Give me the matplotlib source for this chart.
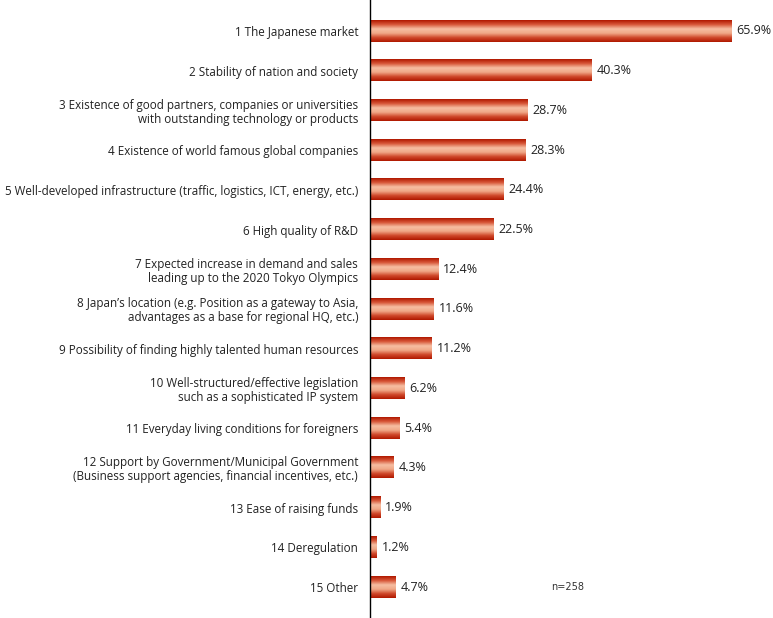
import numpy as np
import matplotlib.pyplot as plt
from matplotlib.colors import LinearSegmentedColormap

# survey answers, in display order
labels = [
    "1 The Japanese market",
    "2 Stability of nation and society",
    "3 Existence of good partners, companies or universities\nwith outstanding technology or products",
    "4 Existence of world famous global companies",
    "5 Well-developed infrastructure (traffic, logistics, ICT, energy, etc.)",
    "6 High quality of R&D",
    "7 Expected increase in demand and sales\nleading up to the 2020 Tokyo Olympics",
    "8 Japan\u2019s location (e.g. Position as a gateway to Asia,\nadvantages as a base for regional HQ, etc.)",
    "9 Possibility of finding highly talented human resources",
    "10 Well-structured/effective legislation\nsuch as a sophisticated IP system",
    "11 Everyday living conditions for foreigners",
    "12 Support by Government/Municipal Government\n(Business support agencies, financial incentives, etc.)",
    "13 Ease of raising funds",
    "14 Deregulation",
    "15 Other",
]
values = [65.9, 40.3, 28.7, 28.3, 24.4, 22.5, 12.4, 11.6, 11.2, 6.2, 5.4, 4.3, 1.9, 1.2, 4.7]
sample_note = "n=258"

plt.rcParams['font.family'] = ['Open Sans', 'DejaVu Sans']

fig = plt.figure(figsize=(7.73, 6.18), dpi=100)
ax = fig.add_axes([370 / 773, 0, 403 / 773, 1])

# vertical gradient: dark red at the edges, pale peach in the middle
grad = LinearSegmentedColormap.from_list(
    "bar", ["#b01800", "#d8583a", "#f6bea2", "#f0a888", "#d04a2c", "#b01800"])
g = np.linspace(0, 1, 64).reshape(-1, 1)

ypos = np.arange(len(values))
h = 0.53
bars = ax.barh(ypos, values, height=h, color="none", edgecolor="none")
for b, v in zip(bars, values):
    x0, y0 = b.get_x(), b.get_y()
    ax.imshow(g, cmap=grad, aspect="auto", interpolation="bilinear",
              extent=[x0, x0 + b.get_width(), y0 + h, y0], zorder=2)
    ax.text(v + 0.9, b.get_y() + h / 2, f"{v}%", va="center", ha="left",
            fontsize=9, color="#222222")

ax.set_xlim(0, 403 / 5.49)
ax.set_ylim(14.78, -0.78)
ax.set_yticks(ypos)
ax.set_yticklabels(labels, fontsize=8.4, color="#222222", linespacing=1.1)
ax.tick_params(axis="y", length=0, pad=8.5)
ax.set_xticks([])
for s in ["top", "right", "bottom"]:
    ax.spines[s].set_visible(False)
ax.spines["left"].set_color("black")
ax.spines["left"].set_linewidth(1)

ax.text(33, 14, sample_note, fontsize=7, va="center", ha="left",
        family="DejaVu Sans", color="#333333")

fig.savefig("out.png", dpi=100)
